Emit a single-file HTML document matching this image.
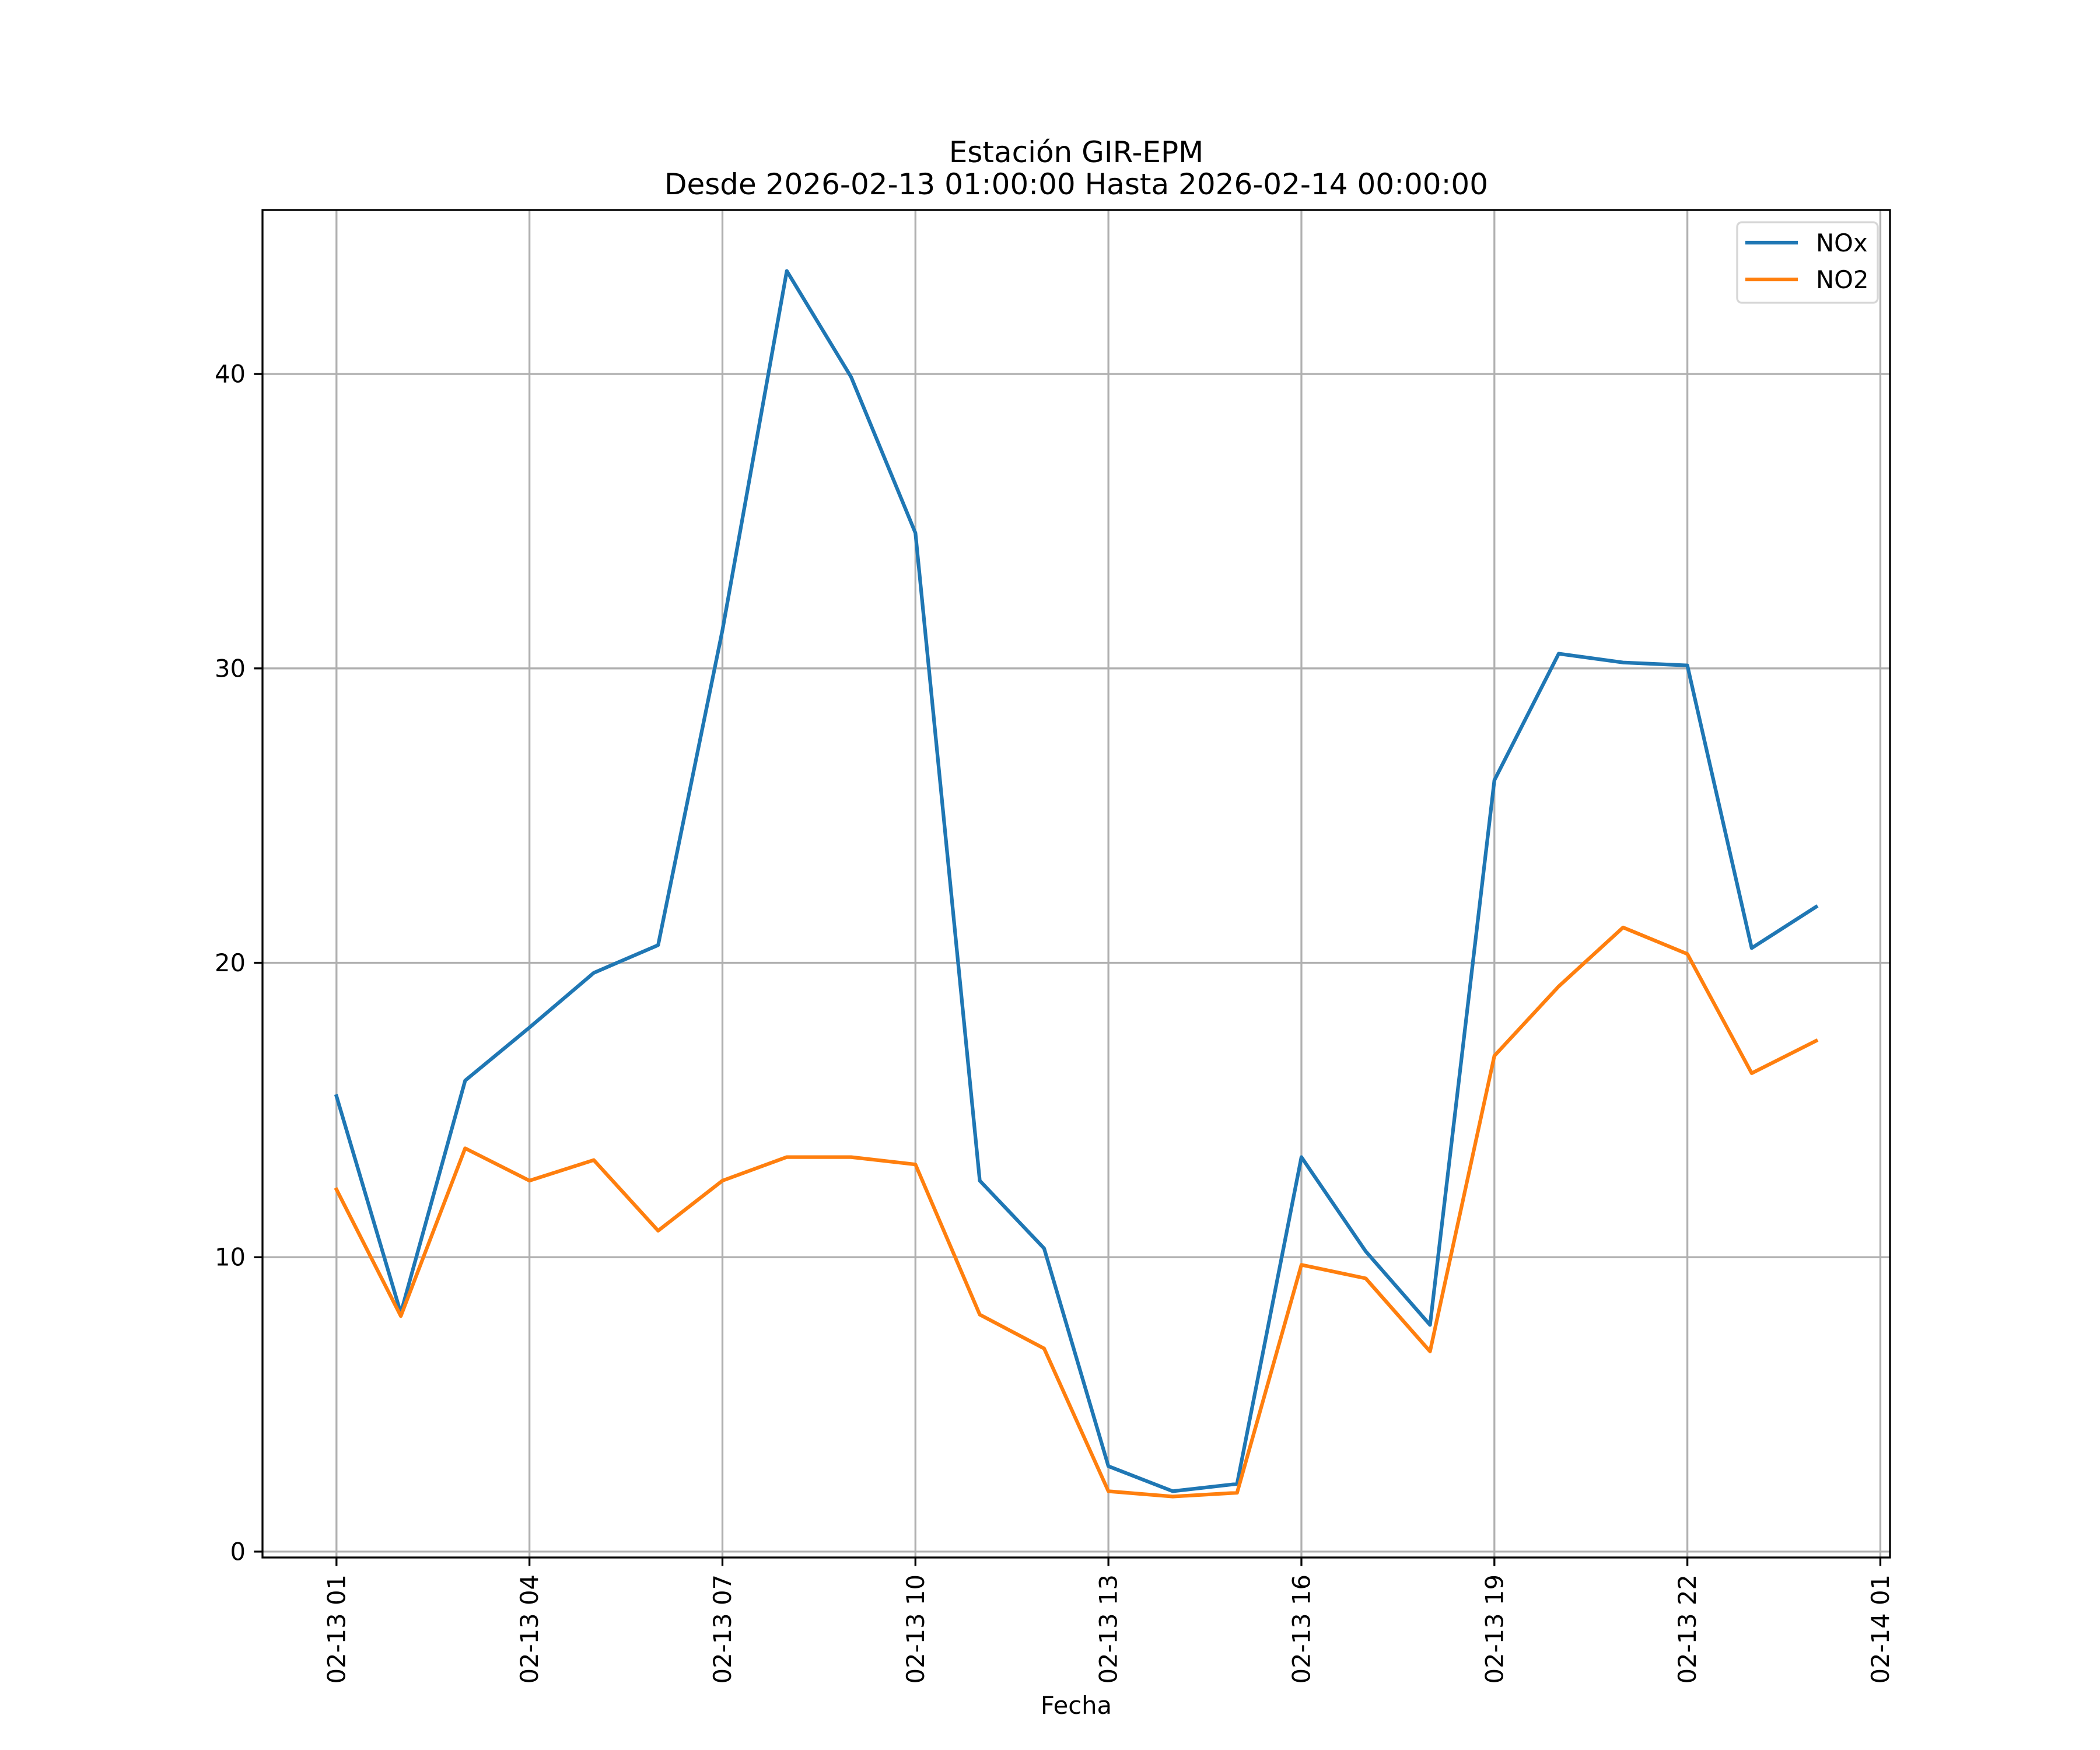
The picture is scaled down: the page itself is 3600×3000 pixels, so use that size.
<!DOCTYPE html>
<html><head><meta charset="utf-8"><style>
html,body{margin:0;padding:0;background:#fff}
svg{display:block}
text{font-family:"DejaVu Sans","Liberation Sans",sans-serif;fill:#000}
</style></head><body>
<svg id="chart" width="3600" height="3000" viewBox="0 0 3600 3000" xmlns="http://www.w3.org/2000/svg">
<rect width="3600" height="3000" fill="#fff"/>
<text x="1845" y="278" font-size="50" text-anchor="middle">Estación GIR-EPM</text>
<text x="1845" y="333" font-size="50" text-anchor="middle">Desde 2026-02-13 01:00:00 Hasta 2026-02-14 00:00:00</text>
<g id="grid"></g><g id="series"></g><g id="axes"></g>
<text x="1845" y="2938" font-size="41.7" text-anchor="middle">Fecha</text>
<g>
<rect x="2978" y="381" width="241" height="138" rx="8" fill="#fff" fill-opacity="0.8" stroke="#d6d6d6" stroke-width="3.3"/>
<line x1="2992" y1="416" x2="3082" y2="416" stroke="#1f77b4" stroke-width="6.25"/>
<text x="3113" y="431" font-size="41.7">NOx</text>
<line x1="2992" y1="479" x2="3082" y2="479" stroke="#ff7f0e" stroke-width="6.25"/>
<text x="3113" y="494" font-size="41.7">NO2</text>
</g>
</svg>
<script>
const hours = [1,2,3,4,5,6,7,8,9,10,11,12,13,14,15,16,17,18,19,20,21,22,23,24];
const noxValues = [15.47,8.1,16.0,17.8,19.66,20.6,31.3,43.5,39.9,34.6,12.6,10.3,2.9,2.05,2.3,13.4,10.2,7.7,26.2,30.5,30.2,30.1,20.5,21.9];
const no2Values = [12.3,8.0,13.7,12.6,13.3,10.9,12.6,13.4,13.4,13.15,8.05,6.9,2.05,1.87,2.0,9.74,9.28,6.8,16.84,19.2,21.2,20.3,16.25,17.35];
const xTickHours = [1,4,7,10,13,16,19,22,25];
const xTickLabels = ["02-13 01","02-13 04","02-13 07","02-13 10","02-13 13","02-13 16","02-13 19","02-13 22","02-14 01"];
const yTicks = [0,10,20,30,40];

const NS="http://www.w3.org/2000/svg";
const L=450,R=3240,T=360,B=2670;
const xMin=1-1.15, xMax=24+1.15;
const yMin=-0.2, yMax=45.57;
function xs(h){return L+(h-xMin)/(xMax-xMin)*(R-L);}
function ys(v){return B-(v-yMin)/(yMax-yMin)*(B-T);}
function mk(tag,attrs,parent){const e=document.createElementNS(NS,tag);for(const k in attrs)e.setAttribute(k,attrs[k]);parent.appendChild(e);return e;}
const grid=document.getElementById('grid'),axes=document.getElementById('axes'),series=document.getElementById('series');

xTickHours.forEach((h,i)=>{
  const x=xs(h);
  const g=mk('line',{x1:x,y1:T,x2:x,y2:B,stroke:'#b0b0b0','stroke-width':3.3},grid);
  
  
  const t=mk('line',{x1:x,y1:B,x2:x,y2:B+14.6,stroke:'#000','stroke-width':3.3},axes);
  
  
  const tx=mk('text',{x:0,y:0,'font-size':41.7,'text-anchor':'end','dominant-baseline':'central',transform:`translate(${x},${B+29}) rotate(-90)`},axes);
  tx.textContent=xTickLabels[i];
  
  
});
yTicks.forEach(v=>{
  const y=ys(v);
  const g=mk('line',{x1:L,y1:y,x2:R,y2:y,stroke:'#b0b0b0','stroke-width':3.3},grid);
  
  
  const t=mk('line',{x1:L-14.6,y1:y,x2:L,y2:y,stroke:'#000','stroke-width':3.3},axes);
  
  
  const tx=mk('text',{x:L-29,y:y,'font-size':41.7,'text-anchor':'end','dominant-baseline':'central'},axes);
  tx.textContent=String(v);
  
  
});
const frame=mk('rect',{x:L,y:T,width:R-L,height:B-T,fill:'none',stroke:'#000','stroke-width':3.3},axes);



function line(vals,color,name){
  const pts=vals.map((v,i)=>xs(hours[i]).toFixed(1)+','+ys(v).toFixed(1)).join(' ');
  const p=mk('polyline',{points:pts,fill:'none',stroke:color,'stroke-width':6.25,'stroke-linejoin':'round','stroke-linecap':'square'},series);
  
  
}
line(noxValues,'#1f77b4','nox-line');
line(no2Values,'#ff7f0e','no2-line');
</script>
</body></html>
